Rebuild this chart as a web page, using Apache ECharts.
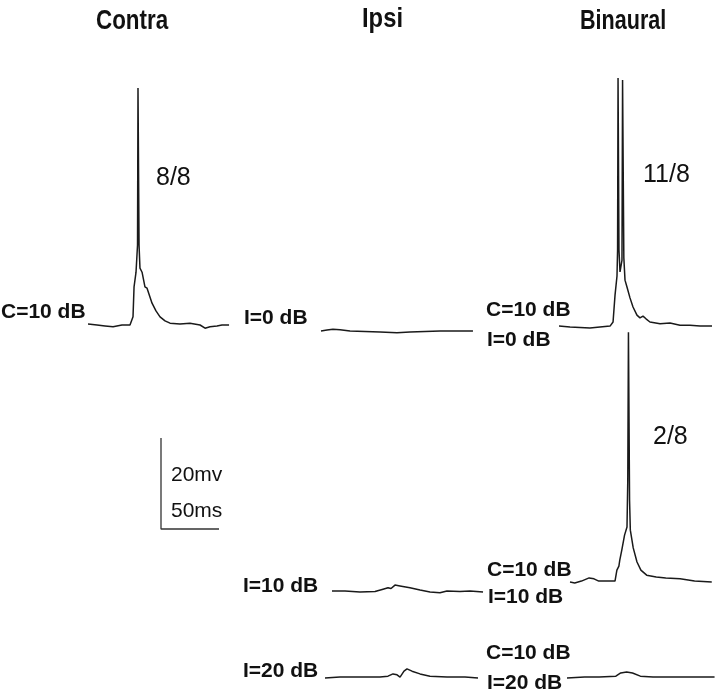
<!DOCTYPE html>
<html><head><meta charset="utf-8">
<script src="https://cdn.jsdelivr.net/npm/echarts@6/dist/echarts.min.js"></script>
<style>html,body{margin:0;padding:0;background:#fff}#c{width:720px;height:690px}</style>
</head><body><div id="c"></div>
<script>
// ---- Data: time (ms from trace start), membrane potential (mV from baseline) ----
const contraT = [0, 7.8, 14.7, 21.6, 29.3, 36.2, 38.8, 39.7, 41.4, 42.7, 43.1, 43.6, 44.0, 44.8, 46.6, 49.1, 50.9, 55.2, 58.6, 62.1, 66.4, 70.7, 79.3, 87.9, 96.6, 100.9, 105.2, 111.2, 115.5, 121.6];
const contraV = [0.2, 0, -0.2, -0.4, 0, 0, 1.8, 8.4, 11.6, 17.6, 52.1, 52.1, 17.6, 12.5, 11.6, 8.4, 8.1, 4.8, 3.1, 1.8, 0.9, 0.4, 0.2, 0.4, 0, -0.7, -0.4, -0.2, 0, 0];

const ipsi0T = [0, 5.2, 10.3, 16.4, 25, 37.9, 50.9, 65.5, 76.7, 89.7, 102.6, 115.5, 131];
const ipsi0V = [0, 0.2, 0.4, 0.3, 0, -0.1, -0.2, -0.4, -0.2, -0.1, 0, 0, 0];

const bin0T = [0, 9.5, 18.1, 26.7, 35.3, 44, 46.6, 48.3, 50, 50.5, 50.9, 51.4, 51.7, 52.6, 53.4, 54.3, 54.8, 55.3, 55.9, 56.9, 58.6, 61.2, 63.8, 67.2, 69.8, 72.4, 75, 78.4, 87.1, 95.7, 104.3, 112.9, 121.6, 131.9];
const bin0V = [0.2, 0, -0.1, -0.2, 0, 0.2, 1.1, 7, 11.2, 16.9, 54.7, 54.7, 16.9, 12.1, 12.5, 14.7, 54.3, 54.3, 15.2, 10.3, 8.8, 6.4, 4.4, 2.6, 2.0, 2.4, 1.8, 1.1, 0.7, 0.9, 0.4, 0.4, 0.2, 0.2];

const ipsi10T = [0, 11.2, 24.1, 37.1, 44, 48.3, 50.9, 54.3, 58.6, 67.2, 75.9, 84.5, 93.1, 99.1, 110.3, 119, 130.2];
const ipsi10V = [0, 0, -0.2, -0.1, 0.4, 0.7, 0.55, 1.3, 1.1, 0.7, 0.2, -0.2, -0.4, 0, -0.1, 0, -0.2];

const bin10T = [0, 4.3, 10.3, 17.2, 21.6, 25.9, 34.5, 40.5, 42.2, 44, 44.8, 46.6, 49.1, 51.3, 52, 52.6, 53.1, 53.6, 54.3, 56.9, 60.3, 63.8, 69, 77.6, 86.2, 99.1, 112.1, 127.6];
const bin10V = [0, -0.2, 0.2, 0.9, 0.7, 0.2, 0.2, 0.2, 2.6, 3.5, 4.8, 7, 10.3, 12.1, 22.4, 54.9, 54.9, 18, 11.4, 7.5, 4.4, 2.6, 1.5, 1.1, 0.9, 0.7, 0.2, 0];

const ipsi20T = [0, 12.9, 30.2, 47.4, 54.3, 58.6, 62.1, 64.7, 68.1, 70.7, 75, 81.9, 90.5, 105.2, 120.7, 131.9];
const ipsi20V = [0, 0.2, 0.2, 0.2, 0.4, 0.9, 0.7, 0.2, 1.5, 2.0, 1.5, 0.9, 0.4, 0.2, 0.2, 0];

const bin20T = [0, 15.5, 28.4, 43.1, 47.4, 52.6, 57.8, 64.7, 75.9, 88.8, 106, 130.2];
const bin20V = [0, 0.2, 0.2, 0.4, 1.1, 1.3, 1.1, 0.4, 0.2, 0.2, 0.2, 0.2];

// scale bar: 20 mV vertical, 50 ms horizontal
const scaleT = [0, 0, 50];
const scaleV = [20, 0, 0];

const columnTitles = ['Contra', 'Ipsi', 'Binaural'];
const spikeCounts = ['8/8', '11/8', '2/8'];
const scaleLabels = ['20mv', '50ms'];

// ---- Layout ----
const PX_PER_MS = 1.16, PX_PER_MV = 4.55, T_MAX = 135, V_MIN = -2, V_MAX = 60;
const grids = [], xAxes = [], yAxes = [], series = [];
function addTrace(x0, y0, t, v, color, width) {
  const idx = grids.length;
  grids.push({left: x0, top: y0 - V_MAX * PX_PER_MV, width: T_MAX * PX_PER_MS, height: (V_MAX - V_MIN) * PX_PER_MV, containLabel: false});
  xAxes.push({type: 'value', gridIndex: idx, min: 0, max: T_MAX, show: false});
  yAxes.push({type: 'value', gridIndex: idx, min: V_MIN, max: V_MAX, show: false});
  series.push({type: 'line', xAxisIndex: idx, yAxisIndex: idx, data: t.map((tt, i) => [tt, v[i]]),
    symbol: 'none', showSymbol: false, clip: false, silent: true,
    lineStyle: {color: color || '#1a1a1a', width: width || 1.5}});
}
addTrace(88, 325, contraT, contraV);
addTrace(321, 331, ipsi0T, ipsi0V);
addTrace(559, 327, bin0T, bin0V);
addTrace(570, 582, bin10T, bin10V);
addTrace(332, 591, ipsi10T, ipsi10V);
addTrace(325, 678, ipsi20T, ipsi20V);
addTrace(567, 678, bin20T, bin20V);
addTrace(161, 529, scaleT, scaleV, '#333', 1.3);

function txt(s, x, y, font, sx) {
  return {type: 'text', x: x, y: y, silent: true, scaleX: sx || 1,
    style: {text: s, font: font, fill: '#111', align: 'left', verticalAlign: 'middle', textAlign: 'left', textVerticalAlign: 'middle'}};
}
const TF = 'bold 28px "Liberation Sans", Arial, sans-serif';
const LF = 'bold 21px "Liberation Sans", Arial, sans-serif';
const NF = '25px "Liberation Sans", Arial, sans-serif';
const SF = '21px "Liberation Sans", Arial, sans-serif';
const graphics = [
  txt(columnTitles[0], 96, 21, TF, 0.8),
  txt(columnTitles[1], 362, 19, TF, 0.85),
  txt(columnTitles[2], 580, 21, TF, 0.77),
  txt(spikeCounts[0], 156, 178, NF),
  txt(spikeCounts[1], 643, 175, NF),
  txt(spikeCounts[2], 653, 437, NF),
  txt(scaleLabels[0], 171, 475, SF),
  txt(scaleLabels[1], 171, 511, SF),
  txt('C=10 dB', 1, 312, LF),
  txt('I=0 dB', 244, 318, LF),
  txt('C=10 dB', 486, 310, LF),
  txt('I=0 dB', 487, 340, LF),
  txt('C=10 dB', 487, 570, LF),
  txt('I=10 dB', 488, 597, LF),
  txt('I=10 dB', 243, 586, LF),
  txt('I=20 dB', 243, 671, LF),
  txt('C=10 dB', 486, 653, LF),
  txt('I=20 dB', 487, 683, LF)
];

const chart = echarts.init(document.getElementById('c'), null, {renderer: 'canvas'});
chart.setOption({
  animation: false,
  backgroundColor: '#fff',
  grid: grids, xAxis: xAxes, yAxis: yAxes, series: series,
  graphic: graphics
});
</script>
</body></html>
